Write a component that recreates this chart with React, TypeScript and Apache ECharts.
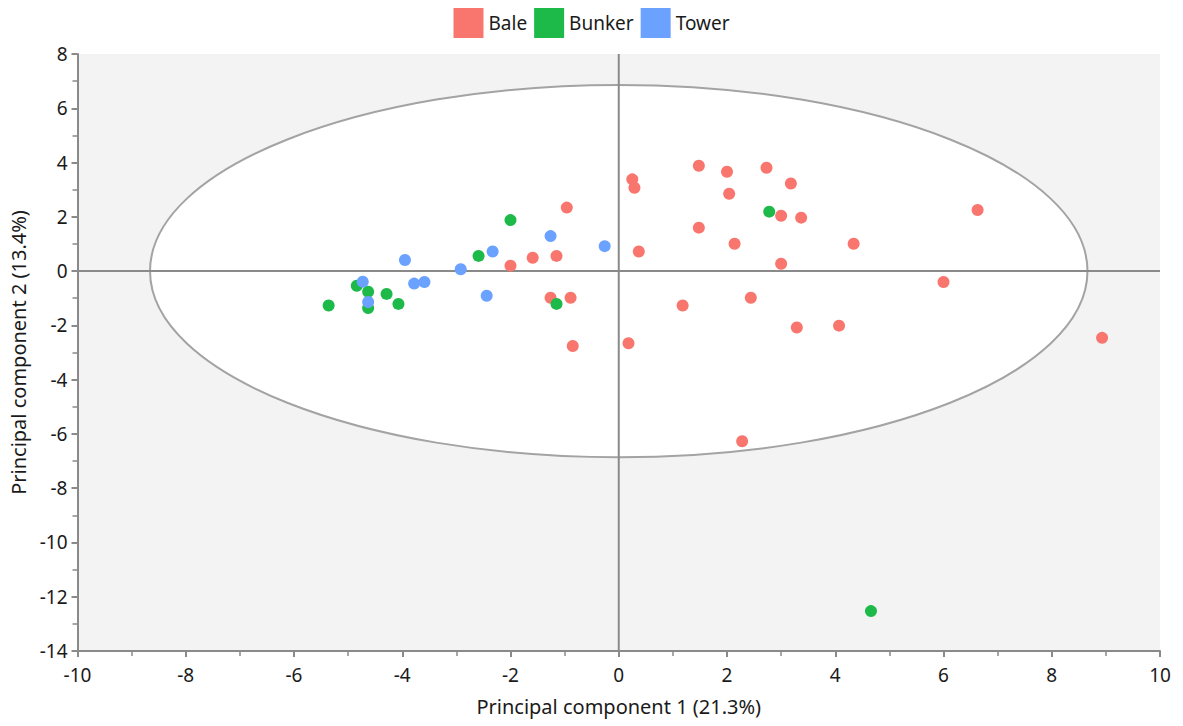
import React, { useEffect, useRef } from "react";
import * as echarts from "echarts";

const seriesNames = ["Bale", "Bunker", "Tower"];
const seriesColors = ["#F8766D", "#1DBA4A", "#6BA1FF"];

const bale: [number, number][] = [
  [-0.96, 2.34], [-1.59, 0.49], [-1.15, 0.56], [-2.0, 0.2], [-1.26, -0.98],
  [-0.89, -0.98], [-0.85, -2.76], [0.18, -2.66], [0.25, 3.38], [0.29, 3.07],
  [1.48, 3.88], [2.0, 3.66], [2.73, 3.81], [3.18, 3.23], [2.04, 2.85],
  [3.0, 2.04], [3.37, 1.97], [1.48, 1.6], [2.14, 1.01], [4.34, 1.01],
  [0.37, 0.72], [3.0, 0.27], [2.44, -0.98], [1.18, -1.27], [3.29, -2.08],
  [4.07, -2.01], [6.63, 2.25], [6.0, -0.4], [8.93, -2.46], [2.28, -6.27],
];
const bunker: [number, number][] = [
  [-2.0, 1.88], [-2.59, 0.56], [-4.84, -0.54], [-4.63, -0.76], [-4.63, -1.36],
  [-5.36, -1.27], [-4.29, -0.84], [-4.07, -1.21], [-1.15, -1.21], [2.78, 2.19],
  [4.66, -12.53],
];
const tower: [number, number][] = [
  [-3.95, 0.41], [-1.26, 1.29], [-0.26, 0.92], [-2.33, 0.72], [-2.92, 0.07],
  [-4.73, -0.39], [-4.63, -1.14], [-3.78, -0.46], [-3.59, -0.4], [-2.44, -0.91],
];
// confidence ellipse: center x, center y, semi-axis x, semi-axis y
const ellipseParams: [number, number, number, number][] = [[0, 0, 8.66, 6.86]];
const xRange = [-10, 10];
const yRange = [-14, 8];
const xName = "Principal component 1 (21.3%)";
const yName = "Principal component 2 (13.4%)";

const FONT = "Noto Sans";

export default function App() {
  const ref = useRef<HTMLDivElement>(null);
  useEffect(() => {
    document.body.style.margin = "0";
    const chart = echarts.init(ref.current!, undefined, { renderer: "svg" });
    const axisCommon = {
      axisLine: { show: true, onZero: false, lineStyle: { color: "#8a8a8a", width: 2 } },
      axisTick: { show: true, length: 6, lineStyle: { color: "#8a8a8a", width: 2 } },
      minorTick: { show: true, splitNumber: 2, length: 5, lineStyle: { color: "#8a8a8a", width: 1.5 } },
      splitLine: { show: false },
      axisLabel: { color: "#1a1a1a", fontSize: 19, fontFamily: FONT },
      nameTextStyle: { color: "#1a1a1a", fontSize: 20, fontFamily: FONT },
    };
    const scatterSeries = [bale, bunker, tower].map((d, i) => ({
      name: seriesNames[i],
      type: "scatter",
      data: d,
      symbolSize: 12,
      itemStyle: { color: seriesColors[i], opacity: 1 },
      z: 3,
      emphasis: { disabled: true },
    }));
    chart.setOption({
      animation: false,
      legend: {
        data: seriesNames,
        top: 3,
        left: "center",
        itemWidth: 30,
        itemHeight: 30,
        itemGap: 7,
        icon: "rect",
        textStyle: { color: "#1a1a1a", fontSize: 19, fontFamily: FONT },
      },
      grid: {
        left: 77.5,
        right: 23,
        top: 54,
        bottom: 75,
        show: true,
        backgroundColor: "#f3f3f3",
        borderWidth: 0,
      },
      xAxis: {
        type: "value",
        min: xRange[0],
        max: xRange[1],
        interval: 2,
        name: xName,
        nameLocation: "middle",
        nameGap: 45,
        ...axisCommon,
        axisLabel: { ...axisCommon.axisLabel, margin: 14 },
      },
      yAxis: {
        type: "value",
        min: yRange[0],
        max: yRange[1],
        interval: 2,
        name: yName,
        nameLocation: "middle",
        nameGap: 46,
        ...axisCommon,
        axisLabel: { ...axisCommon.axisLabel, margin: 10 },
      },
      series: [
        {
          type: "custom",
          name: "ellipse",
          data: ellipseParams,
          z: 1,
          silent: true,
          renderItem: (params: any, api: any) => {
            const c = api.coord([api.value(0), api.value(1)]);
            const s = api.size([api.value(2), api.value(3)]);
            const top = api.coord([0, yRange[1]]);
            const bottom = api.coord([0, yRange[0]]);
            const left = api.coord([xRange[0], 0]);
            const right = api.coord([xRange[1], 0]);
            return {
              type: "group",
              children: [
                {
                  type: "ellipse",
                  shape: { cx: c[0], cy: c[1], rx: s[0], ry: s[1] },
                  style: { fill: "#ffffff", stroke: "#a3a3a3", lineWidth: 2 },
                },
                {
                  type: "line",
                  shape: { x1: top[0], y1: top[1], x2: bottom[0], y2: bottom[1] },
                  style: { stroke: "#8a8a8a", lineWidth: 2 },
                },
                {
                  type: "line",
                  shape: { x1: left[0], y1: left[1], x2: right[0], y2: right[1] },
                  style: { stroke: "#8a8a8a", lineWidth: 2 },
                },
              ],
            };
          },
        },
        ...scatterSeries,
      ],
    });
    return () => chart.dispose();
  }, []);
  return (
    <div
      ref={ref}
      style={{ position: "absolute", left: 0, top: 0, width: 1183, height: 726 }}
    />
  );
}
